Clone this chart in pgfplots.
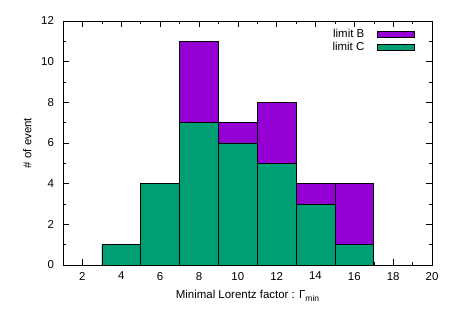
\documentclass[border=0pt]{standalone}
\usepackage{fontspec}
\setmainfont{Liberation Sans}
\usepackage{pgfplots}
\pgfplotsset{compat=1.18}
\definecolor{limB}{HTML}{9400D3}
\definecolor{limC}{HTML}{009E73}

\begin{document}
\fontsize{11.5}{13}\selectfont
\begin{tikzpicture}
\begin{axis}[
  scale only axis,
  width=369bp, height=244bp,
  xmin=1, xmax=20, ymin=0, ymax=12,
  xtick={2,4,...,20}, ytick={0,2,...,12},
  minor xtick={1,3,...,19}, minor ytick={1,3,...,11},
  tick align=inside,
  major tick length=6bp, minor tick length=3bp,
  tick style={black, line width=0.4pt},
  axis line style={line width=0.6pt},
  /pgf/number format/assume math mode=true,
  tick label style={font=\fontsize{11.5}{13}\selectfont},
  xticklabel style={yshift=-3bp},
  yticklabel style={xshift=-5bp},
  xlabel={Minimal Lorentz factor : Γ\raisebox{-0.5ex}{\fontsize{8.5}{9}\selectfont min}},
  ylabel={\# of event},
  xlabel style={yshift=-2bp},
  ylabel style={yshift=2bp},
  legend style={draw=none, fill=none, inner sep=0pt, at={(0.954,0.975)}, anchor=north east,
    font=\fontsize{11.5}{13}\selectfont, row sep=-1bp},
  legend cell align=right,
  legend plot pos=right,
  legend image code/.code={\path (0bp,0bp); \draw[#1, line width=0.5pt] (11bp,-3bp) rectangle (48bp,3bp);},
]
\addplot[ybar interval, fill=limB, draw=black, line width=0.5pt] coordinates
  {(3,1)(5,4)(7,11)(9,7)(11,8)(13,4)(15,4)(17,4)};
\addlegendentry{limit B}
\addplot[ybar interval, fill=limC, draw=black, line width=0.5pt] coordinates
  {(3,1)(5,4)(7,7)(9,6)(11,5)(13,3)(15,1)(17,1)};
\addlegendentry{limit C}
\end{axis}
\path ([xshift=-63bp,yshift=-62bp]current axis.south west)
  rectangle ([xshift=31bp,yshift=21bp]current axis.north east);
\end{tikzpicture}
\end{document}
